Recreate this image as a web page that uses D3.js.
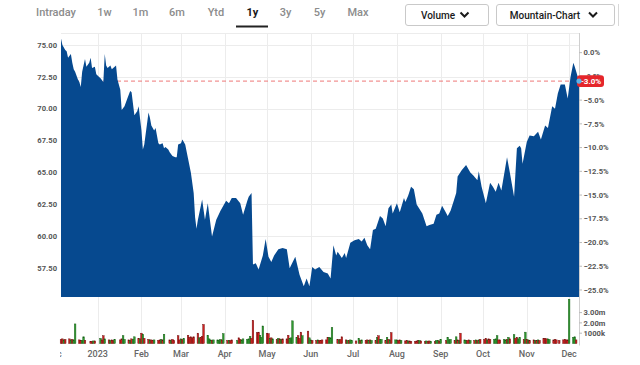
<!DOCTYPE html>
<html><head><meta charset="utf-8">
<script src="https://cdn.jsdelivr.net/npm/d3@7"></script>
<style>html,body{margin:0;padding:0;background:#fff;}svg{display:block;font-family:Roboto,"Liberation Sans",Arial,sans-serif;}</style>
</head><body><svg id="c" width="640" height="365"></svg>
<script>
// ---------- data ----------
const tabs = ["Intraday","1w","1m","6m","Ytd","1y","3y","5y","Max"];
const activeTab = "1y";
const buttons = ["Volume","Mountain-Chart"];
const priceDates = ["2022-12-06","2022-12-07","2022-12-09","2022-12-10","2022-12-11","2022-12-13","2022-12-14","2022-12-15","2022-12-16","2022-12-18","2022-12-19","2022-12-20","2022-12-21","2022-12-23","2022-12-24","2022-12-26","2022-12-27","2022-12-28","2022-12-30","2022-12-31",
"2023-01-02","2023-01-03","2023-01-05","2023-01-06","2023-01-07","2023-01-08","2023-01-10","2023-01-11","2023-01-12","2023-01-14","2023-01-15","2023-01-17","2023-01-18","2023-01-20","2023-01-22","2023-01-24","2023-01-25","2023-01-27","2023-01-29","2023-01-30",
"2023-02-01","2023-02-02","2023-02-03","2023-02-06","2023-02-07","2023-02-08","2023-02-10","2023-02-11","2023-02-13","2023-02-14","2023-02-16","2023-02-17","2023-02-18","2023-02-20","2023-02-21","2023-02-23","2023-02-25","2023-02-26","2023-02-27",
"2023-03-01","2023-03-02","2023-03-04","2023-03-06","2023-03-08","2023-03-10","2023-03-11","2023-03-12","2023-03-13","2023-03-16","2023-03-18","2023-03-20","2023-03-23","2023-03-26","2023-03-29",
"2023-04-02","2023-04-04","2023-04-06","2023-04-09","2023-04-12","2023-04-14","2023-04-17","2023-04-18","2023-04-20","2023-04-21","2023-04-23","2023-04-25","2023-04-28","2023-04-30",
"2023-05-02","2023-05-04","2023-05-06","2023-05-09","2023-05-12","2023-05-15","2023-05-17","2023-05-21","2023-05-24","2023-05-27","2023-05-29","2023-05-31",
"2023-06-02","2023-06-04","2023-06-07","2023-06-10","2023-06-13","2023-06-15","2023-06-17","2023-06-19","2023-06-20","2023-06-23","2023-06-25","2023-06-26","2023-06-29",
"2023-07-02","2023-07-05","2023-07-07","2023-07-09","2023-07-11","2023-07-13","2023-07-15","2023-07-17","2023-07-20","2023-07-22","2023-07-24","2023-07-26","2023-07-28","2023-07-29",
"2023-08-01","2023-08-03","2023-08-06","2023-08-07","2023-08-09","2023-08-11","2023-08-13","2023-08-15","2023-08-19","2023-08-22","2023-08-24","2023-08-27","2023-08-29","2023-08-31",
"2023-09-02","2023-09-04","2023-09-06","2023-09-08","2023-09-10","2023-09-12","2023-09-13","2023-09-16","2023-09-19","2023-09-22","2023-09-24","2023-09-27","2023-09-28","2023-09-30",
"2023-10-03","2023-10-06","2023-10-08","2023-10-10","2023-10-12","2023-10-14","2023-10-18","2023-10-20","2023-10-23","2023-10-25","2023-10-27","2023-10-28","2023-10-29",
"2023-11-01","2023-11-03","2023-11-06","2023-11-09","2023-11-11","2023-11-14","2023-11-16","2023-11-19","2023-11-21","2023-11-23","2023-11-25","2023-11-28","2023-11-30",
"2023-12-02","2023-12-04","2023-12-05","2023-12-08"];
const prices = [75.5,75.0,74.6,74.5,74.0,74.3,73.6,73.1,72.9,72.3,72.1,71.7,72.9,73.9,73.3,73.6,74.0,73.2,73.3,72.7,
72.5,72.4,72.1,74.3,73.4,73.2,73.4,73.1,73.2,73.4,72.3,71.5,69.9,70.2,70.8,71.4,71.3,69.5,69.8,70.2,
68.3,66.8,67.2,69.7,69.3,68.7,68.3,68.5,67.3,67.2,67.3,66.9,67.0,66.8,66.6,66.3,66.2,66.2,67.2,
67.3,67.6,67.2,66.1,65.0,63.4,61.5,60.6,61.3,62.9,61.3,62.6,60.0,61.3,62.0,
62.8,62.6,63.0,63.0,62.6,61.7,62.8,63.1,63.4,57.8,57.9,57.4,58.5,59.8,
58.4,58.0,58.5,59.0,59.1,59.0,57.5,58.4,57.0,56.1,56.7,56.1,
57.6,57.4,57.6,57.2,57.1,56.7,59.3,58.5,58.8,58.3,58.7,58.3,59.5,
59.7,59.8,59.6,59.9,59.3,59.0,60.5,60.6,61.6,61.4,60.8,62.2,62.5,61.8,
62.6,61.9,63.0,62.7,63.2,63.9,63.7,62.5,61.8,60.8,60.9,61.0,61.7,61.8,
62.4,62.0,61.6,62.0,62.7,63.4,64.7,65.2,65.6,65.0,64.8,64.4,65.1,63.9,
62.6,64.2,63.9,63.5,64.2,63.6,66.2,65.0,63.1,66.9,67.1,66.9,65.7,
67.4,67.9,67.85,68.2,67.6,68.7,68.5,70.2,70.0,71.2,71.9,71.9,70.8,
72.5,73.6,73.3,72.17];
const refPrice = 74.4;           // 0.0 % reference
const lastPctLabel = "-3.0%";
const priceTicks = [57.5,60,62.5,65,67.5,70,72.5,75];
const pctTicks = [0,-2.5,-5,-7.5,-10,-12.5,-15,-17.5,-20,-22.5,-25];
const volTicks = [1,2,3];
const volTickLabels = ["1000k","2.00m","3.00m"];
const holidays = ["2022-12-26","2023-01-02","2023-01-16","2023-02-20","2023-04-07","2023-05-29","2023-06-19","2023-07-04","2023-09-04","2023-11-23"];
// volume in millions, one per trading day (Dec 6 2022 .. Dec 6 2023)
const volumes = [
0.4,0.45,0.35,0.4, 0.45,0.35,0.4,0.35,1.9, 0.35,0.3,0.3,0.65,0.3, 0.2,0.2,0.25,0.25,
0.5,0.35,0.75,0.45, 0.35,0.3,0.35,0.3,0.4, 0.35,0.45,0.75,0.4, 0.35,0.3,0.45,0.4,0.65, 0.5,0.45,
1.0,0.9,0.5, 0.4,0.35,0.35,0.3,0.35, 0.3,0.35,0.4,0.35,0.9, 0.35,0.3,0.4,0.3, 0.75,0.35,
0.45,0.4,0.5, 0.8,0.6,0.65,0.55,0.65, 1.0,0.55,0.6,0.7,1.85, 0.8,0.45,0.35,0.3,0.35, 0.35,0.3,0.4,0.35,0.95,
0.3,0.3,0.3,0.35, 0.3,0.55,0.4,0.35,0.45, 0.4,0.45,0.7,0.5,2.25, 1.05,1.1,0.8,0.6,1.7,
1.0,0.95,0.5,0.55,0.45, 0.4,0.5,0.45,0.4,0.45, 0.45,0.8,0.5,0.55,2.2, 0.6,0.75,0.5,1.1,0.75, 1.2,0.55,
0.35,0.3, 0.3,0.35,0.3,0.3,0.35, 0.35,0.6,0.6,0.55,1.55, 0.4,0.35,0.4,0.65, 0.35,0.3,0.3,0.35,0.3,
0.25, 0.5,0.3,0.35, 0.3,0.35,0.3,0.35,0.3, 0.3,0.6,0.75,0.4,0.4, 0.3,0.6,0.4,0.35,1.05, 0.35,
0.35,0.3,0.35,0.3, 0.25,0.3,0.25,0.25,0.2, 0.2,0.25,0.3,0.3,0.25, 0.2,0.25,0.2,0.25,0.2, 0.2,0.3,0.3,0.25,
0.4, 0.3,0.6,0.35,0.4, 0.3,0.65,0.35,0.3,1.0, 0.35,0.3,0.3,0.35,0.3, 0.3,0.35,0.3,0.35,0.4,
0.4,0.5,0.35,0.45,0.4, 0.4,0.45,0.75,0.35,0.35, 0.4,0.35,0.4,0.6,0.45, 0.85,0.5,0.6,0.45,0.6, 0.4,1.1,
0.4,0.35,0.3, 0.35,0.3,0.3,0.35,0.3, 0.5,0.5,0.45,0.45,0.4, 0.35,0.4,0.35,0.3, 0.35,0.4,0.35,0.35,
4.3,0.6,0.65,0.35];
const volDir = "rrgr"+"rgrgg"+"rrggr"+"rrgr"+
"grrg"+"rgrrg"+"rrgg"+"rgrgg"+"rg"+
"rgr"+"rgrrg"+"rrgrg"+"rgrr"+"rr"+
"grg"+"rrrrr"+"rgrrr"+"gggrg"+"gggrg"+
"rgrr"+"grrgg"+"gggrr"+"rrggg"+
"rrgrg"+"rgrgr"+"rrggg"+"grrrg"+"rg"+
"gr"+"rgrrr"+"rrggg"+"rgrr"+"rgrgg"+
"r"+"grg"+"rrgrg"+"rgrgg"+"rgrgr"+"g"+
"grrg"+"rrgrr"+"rrrgr"+"rgrrg"+"rggr"+
"g"+"rggg"+"rgrgr"+"ggrrg"+"rgrgr"+
"rrgrr"+"gggrr"+"ggrgr"+"grrgg"+"rg"+
"rgr"+"rgrgr"+"rrrgg"+"rrrr"+"rrrr"+
"gggr";
const monthTickDates = ["2022-12-01","2023-01-01","2023-02-01","2023-03-01","2023-04-01","2023-05-01","2023-06-01","2023-07-01","2023-08-01","2023-09-01","2023-10-01","2023-11-01","2023-12-01"];
const monthLabels = ["Dec","2023","Feb","Mar","Apr","May","Jun","Jul","Aug","Sep","Oct","Nov","Dec"];

// ---------- layout ----------
const parse = d3.timeParse("%Y-%m-%d");
const L = 61, R = 579, T = 33, B = 297, VT = 299.2, VB = 343.5;
const svg = d3.select("#c");

const x = d3.scaleTime().domain([parse("2022-12-06"), parse("2023-12-08")]).range([L, R]);
const y = d3.scaleLinear().domain([55.25, 75.94]).range([B, T]);
const yPct = d3.scaleLinear().domain([(55.25/refPrice-1)*100, (75.94/refPrice-1)*100]).range([B, T]);
const yVol = d3.scaleLinear().domain([0, 4.3]).range([VB, VT]);

// top bar
const tabX = [56,104.5,140.5,177,216,252.5,285.5,319.5,358];
const tg = svg.append("g");
tabs.forEach((t,i)=>{
  tg.append("text").attr("x",tabX[i]).attr("y",16).attr("text-anchor","middle")
    .attr("font-size",11).attr("font-weight", t===activeTab?700:500)
    .attr("fill", t===activeTab?"#1a1a1a":"#8c8c8c").text(t);
});
tg.append("rect").attr("x",236).attr("y",25.5).attr("width",32).attr("height",2).attr("fill","#222");
const btn = [{x:405.5,w:83,tx:438,cx:464.5},{x:496.5,w:118,tx:545,cx:593}];
buttons.forEach((b,i)=>{
  const g = svg.append("g");
  g.append("rect").attr("x",btn[i].x).attr("y",4.5).attr("width",btn[i].w).attr("height",21).attr("rx",2.5)
    .attr("fill","#fff").attr("stroke","#c9c9c9");
  g.append("text").attr("x",btn[i].tx).attr("y",18.5).attr("text-anchor","middle")
    .attr("font-size",10).attr("font-weight",500).attr("fill","#1a1a1a").text(b);
  const cx = btn[i].cx;
  g.append("path").attr("d",`M${cx-4},${12.5}L${cx},${16.5}L${cx+4},${12.5}`).attr("fill","none")
    .attr("stroke","#1a1a1a").attr("stroke-width",2);
});
svg.append("line").attr("x1",618.5).attr("x2",618.5).attr("y1",4).attr("y2",26).attr("stroke","#d8d8d8");

// grid
const grid = svg.append("g").attr("stroke","#ececec").attr("stroke-width",1);
grid.append("line").attr("x1",L).attr("x2",R).attr("y1",T+0.5).attr("y2",T+0.5);
priceTicks.forEach(p=>grid.append("line").attr("x1",L).attr("x2",R).attr("y1",Math.round(y(p))+0.5).attr("y2",Math.round(y(p))+0.5));
monthTickDates.slice(1).forEach(d=>{
  const xx = Math.round(x(parse(d)))+0.5;
  grid.append("line").attr("x1",xx).attr("x2",xx).attr("y1",T).attr("y2",VB+1);
});

// dashed last-price line (behind area)
const lastPrice = prices[prices.length-1];
svg.append("line").attr("x1",L).attr("x2",R).attr("y1",y(lastPrice)).attr("y2",y(lastPrice))
  .attr("stroke","#ee7777").attr("stroke-width",1).attr("stroke-dasharray","4,3");

// area
const pdata = priceDates.map((d,i)=>({d:parse(d),v:prices[i]}));
const area = d3.area().x(d=>x(d.d)).y0(B).y1(d=>y(d.v));
svg.append("path").datum(pdata).attr("d",area).attr("fill","#06498f");

// volume bars
const hol = new Set(holidays);
const fmt = d3.timeFormat("%Y-%m-%d");
const tdays = d3.timeDay.range(parse("2022-12-06"), parse("2023-12-07"))
  .filter(d=>d.getDay()>0 && d.getDay()<6 && !hol.has(fmt(d)));
const n = Math.min(tdays.length, volumes.length);
const vg = svg.append("g");
for(let i=0;i<n;i++){
  const up = volDir[i]==="g";
  const cx = x(tdays[i]);
  vg.append("rect").attr("x",cx-0.8).attr("width",1.6)
    .attr("y",yVol(volumes[i])).attr("height",VB-yVol(volumes[i]))
    .attr("fill", up?"#2f9a2f":"#d0201f").attr("stroke", up?"#145c14":"#6d0f0f").attr("stroke-width",0.45);
}

// right axis line
svg.append("line").attr("x1",R+0.5).attr("x2",R+0.5).attr("y1",T).attr("y2",VB+2).attr("stroke","#cfcfcf");

// left price labels
const lab = svg.append("g").attr("font-size",7.6).attr("font-weight",700).attr("fill","#555");
priceTicks.forEach(p=>lab.append("text").attr("x",57).attr("y",y(p)+2.7).attr("text-anchor","end").text(d3.format(".2f")(p)));

// right pct labels (the one under the last-value badge is covered by it, as in the original)
const rl = svg.append("g").attr("font-size",7.6).attr("font-weight",700).attr("fill","#555");
const lastY = y(lastPrice);
pctTicks.forEach(p=>{
  const yy = yPct(p);
  rl.append("line").attr("x1",R).attr("x2",R+3).attr("y1",yy).attr("y2",yy).attr("stroke","#bbb");
  rl.append("text").attr("x",583.5).attr("y",yy+2.7).attr("font-size",Math.abs(yy-lastY)<8?6.5:7.6).text(d3.format(".1f")(p)+"%");
});
volTicks.forEach((v,i)=>{
  const yy = yVol(v);
  rl.append("line").attr("x1",R).attr("x2",R+3).attr("y1",yy).attr("y2",yy).attr("stroke","#bbb");
  rl.append("text").attr("x",583.5).attr("y",yy+2.7).text(volTickLabels[i]);
});

// x labels
svg.append("clipPath").attr("id","xc").append("rect").attr("x",60).attr("y",340).attr("width",580).attr("height",25);
const xl = svg.append("g").attr("clip-path","url(#xc)").attr("font-size",9).attr("font-weight",500).attr("fill","#666");
monthTickDates.forEach((d,i)=>xl.append("text").attr("x",x(parse(d))).attr("y",357).attr("text-anchor","middle").text(monthLabels[i]));

// last value badge
svg.append("rect").attr("x",577).attr("y",lastY-5.8).attr("width",27).attr("height",11.6).attr("rx",3).attr("fill","#e5262b");
svg.append("text").attr("x",591).attr("y",lastY+3).attr("text-anchor","middle").attr("font-size",8).attr("font-weight",700).attr("fill","#fff").text(lastPctLabel);
svg.append("circle").attr("cx",R).attr("cy",lastY).attr("r",2.6).attr("fill","#5cb2e8");
</script></body></html>
